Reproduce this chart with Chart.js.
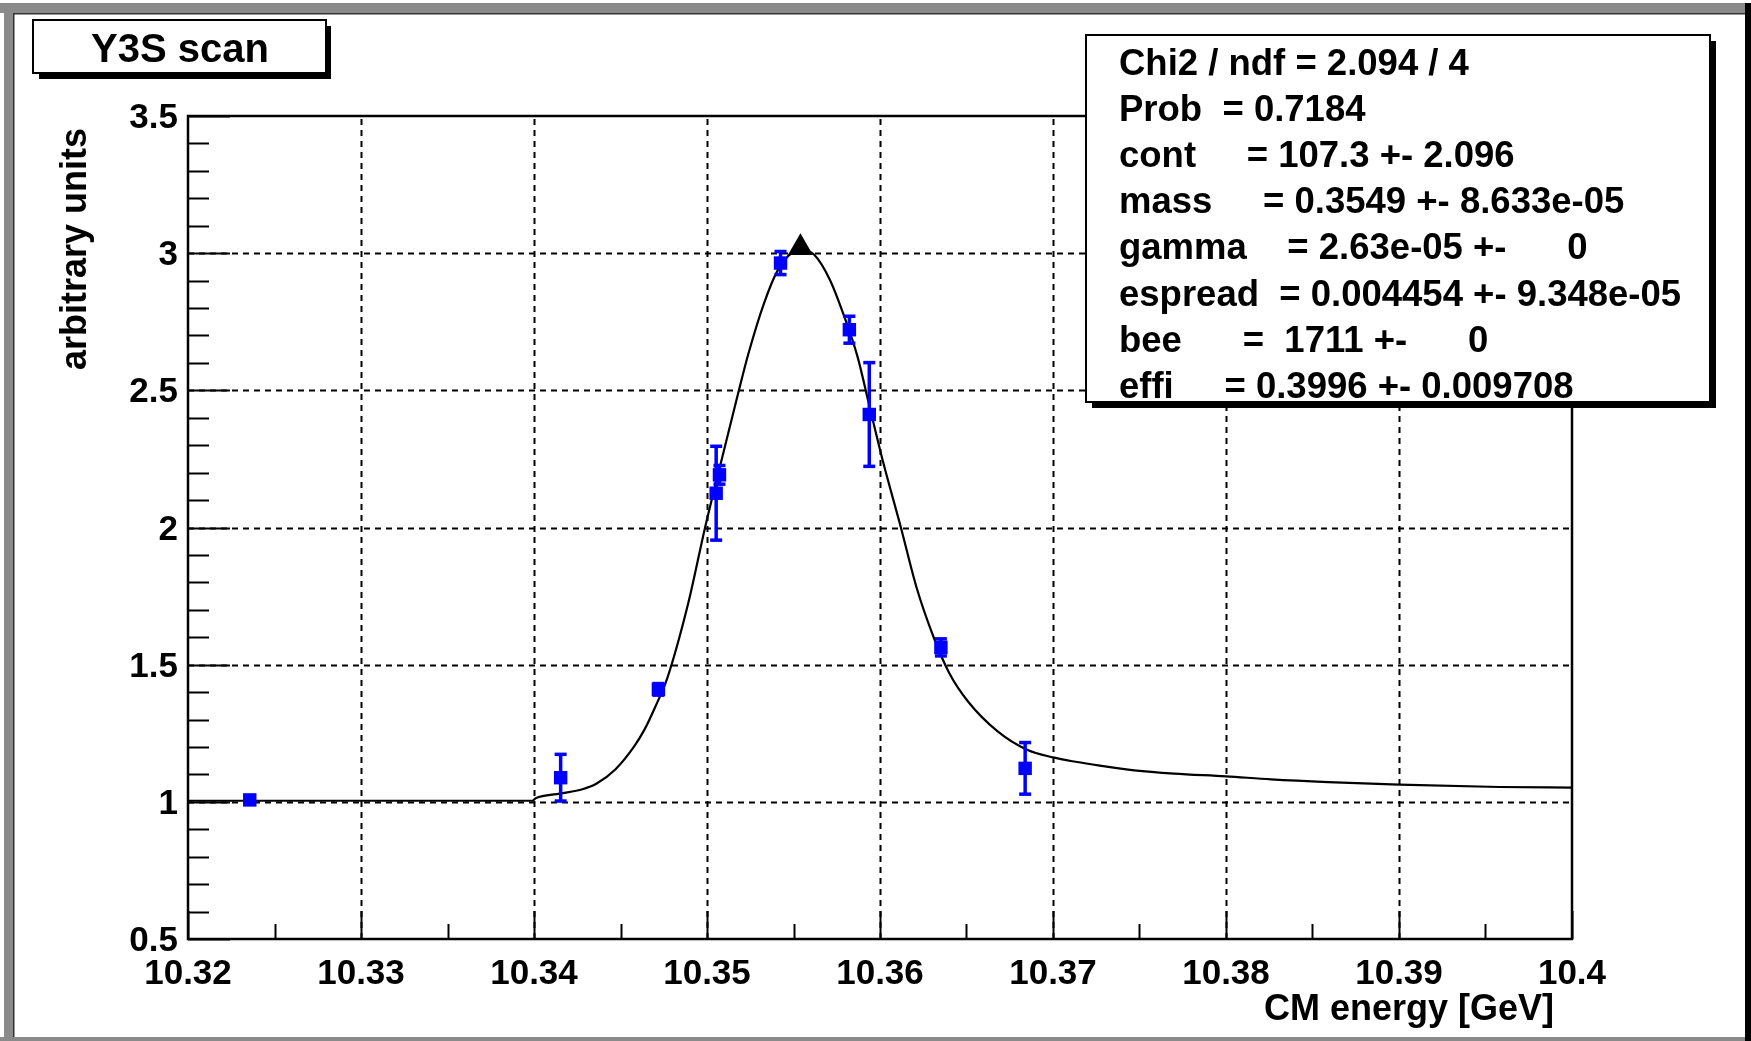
<!DOCTYPE html>
<html>
<head>
<meta charset="utf-8">
<title>Y3S scan</title>
<script src="https://cdn.jsdelivr.net/npm/chart.js@4.4.1/dist/chart.umd.min.js"></script>
<style>
  html, body { margin: 0; padding: 0; background: #fff; }
  #wrap { width: 1751px; height: 1041px; }
</style>
</head>
<body>
<div id="wrap"><canvas id="scan" width="1751" height="1041"></canvas></div>
<script>
// scan points (CM energy in GeV, arbitrary units)
var energy   = [10.32357, 10.34154, 10.34719, 10.35053, 10.35072, 10.35425, 10.35823, 10.35938, 10.36352, 10.36839];
var yieldVal = [1.007, 1.088, 1.410, 2.125, 2.192, 2.964, 2.721, 2.412, 1.563, 1.122];
var yieldErr = [0.012, 0.086, 0.022, 0.172, 0.035, 0.043, 0.050, 0.190, 0.032, 0.095];

// fitted curve
var fitEnergy = [10.32, 10.33, 10.3399, 10.3401, 10.3415, 10.3428, 10.3436, 10.3447, 10.3458, 10.3464,
                 10.3470, 10.3477, 10.3489, 10.3499, 10.3508, 10.3518, 10.3524, 10.3533, 10.3541, 10.3550,
                 10.3554, 10.3562, 10.3571, 10.3579, 10.3587, 10.3594, 10.3602, 10.3612, 10.3621, 10.3631,
                 10.3640, 10.3651, 10.3668, 10.3685, 10.3700, 10.3713, 10.3727, 10.3747, 10.3770, 10.3800,
                 10.3826, 10.3859, 10.3900, 10.3958, 10.4000];
var fitValue  = [1.004, 1.004, 1.004, 1.013, 1.030, 1.046, 1.066, 1.118, 1.203, 1.265,
                 1.345, 1.450, 1.720, 2.003, 2.235, 2.489, 2.635, 2.818, 2.939, 3.006,
                 3.012, 2.994, 2.903, 2.775, 2.623, 2.440, 2.234, 2.002, 1.784, 1.600,
                 1.470, 1.365, 1.257, 1.190, 1.162, 1.146, 1.132, 1.115, 1.103, 1.093,
                 1.082, 1.072, 1.063, 1.054, 1.052];

// fit maximum marker
var peakEnergy = [10.3554];
var peakValue  = [3.02];

var xTickLabels = ['10.32', '10.33', '10.34', '10.35', '10.36', '10.37', '10.38', '10.39', '10.4'];
var yTickLabels = ['0.5', '1', '1.5', '2', '2.5', '3', '3.5'];

var statLines = [
  'Chi2 / ndf = 2.094 / 4',
  'Prob  = 0.7184',
  'cont     = 107.3 +- 2.096',
  'mass     = 0.3549 +- 8.633e-05',
  'gamma    = 2.63e-05 +-      0',
  'espread  = 0.004454 +- 9.348e-05',
  'bee      =  1711 +-      0',
  'effi     = 0.3996 +- 0.009708'
];

var FONT = '"Liberation Sans", Arial, Helvetica, sans-serif';

function pairs(xs, ys) {
  return xs.map(function(x, i) { return {x: x, y: ys[i]}; });
}

var rootPad = {
  id: 'rootPad',
  beforeDraw: function(chart) {
    var c = chart.ctx;
    c.save();
    c.fillStyle = '#fff';
    c.fillRect(0, 0, chart.width, chart.height);
    // window frame
    c.fillStyle = '#8a8a8a';
    c.fillRect(0, 3, 1751, 10);
    c.fillRect(4, 3, 9, 1038);
    c.fillRect(0, 1037, 1751, 4);
    c.fillStyle = '#000';
    c.fillRect(1745, 3, 6, 1038);
    c.fillStyle = '#333';
    c.fillRect(13, 13, 1732, 1.5);
    c.fillRect(13, 13, 1.5, 1024);
    c.restore();
  },
  beforeDatasetsDraw: function(chart) {
    var c = chart.ctx, a = chart.chartArea;
    var xs = chart.scales.x, ys = chart.scales.y;
    c.save();
    c.strokeStyle = '#000';
    c.lineWidth = 2;
    c.setLineDash([6, 5]);
    xTickLabels.forEach(function(t) {
      var px = Math.round(xs.getPixelForValue(parseFloat(t))) + 0.5;
      if (px <= a.left + 2 || px >= a.right - 2) return;
      c.beginPath(); c.moveTo(px, a.bottom); c.lineTo(px, a.top); c.stroke();
    });
    yTickLabels.forEach(function(t) {
      var py = Math.round(ys.getPixelForValue(parseFloat(t))) + 0.5;
      if (py <= a.top + 2 || py >= a.bottom - 2) return;
      c.beginPath(); c.moveTo(a.left, py); c.lineTo(a.right, py); c.stroke();
    });
    c.restore();
  },
  afterDatasetsDraw: function(chart) {
    var c = chart.ctx, a = chart.chartArea;
    var xs = chart.scales.x, ys = chart.scales.y;
    c.save();
    // error bars
    c.strokeStyle = '#0000ff';
    c.fillStyle = '#0000ff';
    c.lineWidth = 3.5;
    energy.forEach(function(e, i) {
      var px = xs.getPixelForValue(e);
      var top = ys.getPixelForValue(yieldVal[i] + yieldErr[i]);
      var bot = ys.getPixelForValue(yieldVal[i] - yieldErr[i]);
      c.beginPath(); c.moveTo(px, top); c.lineTo(px, bot); c.stroke();
      c.fillRect(px - 6, top - 1.5, 12, 3.5);
      c.fillRect(px - 6, bot - 2, 12, 3.5);
    });

    // ticks
    c.strokeStyle = '#000';
    c.lineWidth = 2;
    var v, p;
    for (v = 0; v <= 16; v++) {
      p = Math.round(xs.getPixelForValue(10.32 + v * 0.005)) + 0.5;
      c.beginPath(); c.moveTo(p, a.bottom); c.lineTo(p, a.bottom - (v % 2 ? 15 : 28)); c.stroke();
    }
    for (v = 0; v <= 30; v++) {
      p = Math.round(ys.getPixelForValue(0.5 + v * 0.1)) + 0.5;
      c.beginPath(); c.moveTo(a.left, p); c.lineTo(a.left + (v % 5 ? 21 : 42), p); c.stroke();
    }
    // frame
    c.lineWidth = 2.5;
    c.strokeRect(a.left, a.top, a.right - a.left, a.bottom - a.top);

    // tick labels
    c.fillStyle = '#000';
    c.font = 'bold 35px ' + FONT;
    c.textAlign = 'center';
    c.textBaseline = 'alphabetic';
    xTickLabels.forEach(function(t) {
      c.fillText(t, xs.getPixelForValue(parseFloat(t)), 984);
    });
    c.textAlign = 'right';
    yTickLabels.forEach(function(t) {
      c.fillText(t, 178, ys.getPixelForValue(parseFloat(t)) + 12);
    });

    // axis titles
    c.font = 'bold 36px ' + FONT;
    c.textAlign = 'right';
    c.fillText('CM energy [GeV]', 1554, 1020);
    c.save();
    c.translate(86, 128);
    c.rotate(-Math.PI / 2);
    c.fillText('arbitrary units', 0, 0);
    c.restore();
    c.restore();
  },
  afterDraw: function(chart) {
    var c = chart.ctx;
    c.save();
    // title box
    c.fillStyle = '#000';
    c.fillRect(39, 26, 292, 53);
    c.fillStyle = '#fff';
    c.fillRect(33, 20, 293, 53);
    c.strokeStyle = '#000';
    c.lineWidth = 2;
    c.strokeRect(33, 20, 293, 53);
    c.fillStyle = '#000';
    c.font = 'bold 40px ' + FONT;
    c.textAlign = 'center';
    c.textBaseline = 'alphabetic';
    c.fillText('Y3S scan', 180, 62);

    // fit statistics box
    c.fillRect(1092, 41, 624, 367);
    c.fillStyle = '#fff';
    c.fillRect(1086, 35, 624, 367);
    c.strokeRect(1086, 35, 624, 367);
    c.fillStyle = '#000';
    c.font = 'bold 36.5px ' + FONT;
    c.textAlign = 'left';
    statLines.forEach(function(t, i) {
      c.fillText(t, 1119, 75 + i * 46.1);
    });
    c.restore();
  }
};

new Chart(document.getElementById('scan'), {
  type: 'scatter',
  data: {
    datasets: [
      {
        label: 'maximum',
        data: pairs(peakEnergy, peakValue),
        pointStyle: 'triangle',
        pointRadius: 14.5,
        backgroundColor: '#000',
        borderColor: '#000',
        borderWidth: 0
      },
      {
        label: 'scan',
        data: pairs(energy, yieldVal),
        pointStyle: 'rect',
        pointRadius: 9.5,
        backgroundColor: '#0000ff',
        borderWidth: 0
      },
      {
        label: 'fit',
        data: pairs(fitEnergy, fitValue),
        showLine: true,
        borderColor: '#000',
        borderWidth: 2.2,
        pointRadius: 0,
        cubicInterpolationMode: 'monotone'
      }
    ]
  },
  options: {
    responsive: false,
    animation: false,
    devicePixelRatio: 1,
    layout: { padding: { top: 116, right: 179, bottom: 0, left: 0 } },
    plugins: {
      legend: { display: false },
      tooltip: { enabled: false }
    },
    scales: {
      x: {
        type: 'linear', min: 10.32, max: 10.4,
        grid: { display: false }, border: { display: false }, ticks: { display: false },
        afterFit: function(s) { s.height = 102; }
      },
      y: {
        type: 'linear', min: 0.5, max: 3.5,
        grid: { display: false }, border: { display: false }, ticks: { display: false },
        afterFit: function(s) { s.width = 188; }
      }
    }
  },
  plugins: [rootPad]
});
</script>
</body>
</html>
